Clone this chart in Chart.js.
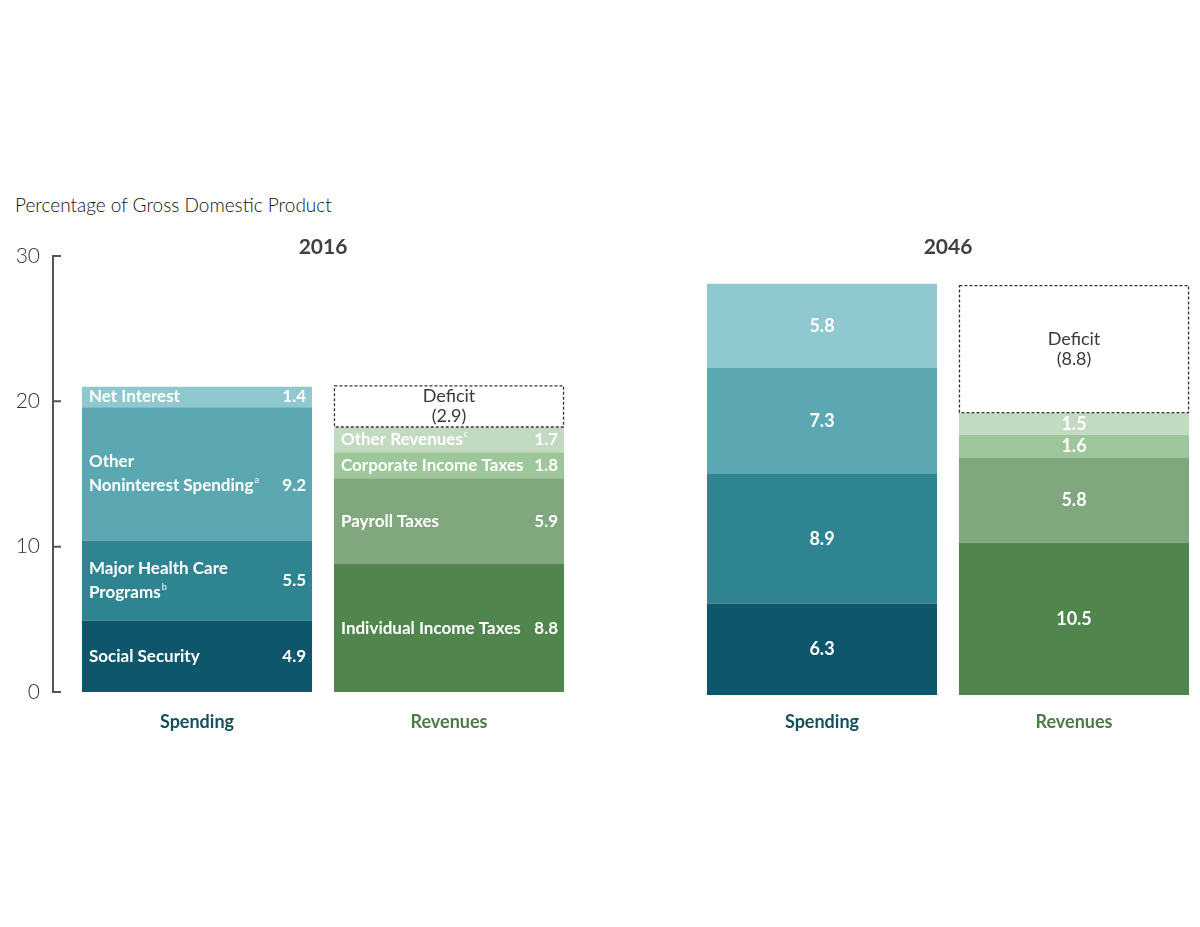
<!DOCTYPE html>
<html>
<head>
<meta charset="utf-8">
<script src="https://cdn.jsdelivr.net/npm/chart.js@4.4.1/dist/chart.umd.min.js"></script>
<style>
  html, body { margin: 0; padding: 0; background: #fff; overflow: hidden; }
  #wrap { position: relative; width: 1200px; height: 927px; }
  #c2016 { position: absolute; left: 0; top: 0; }
  #c2046 { position: absolute; left: 600px; top: 0; }
  #unit {
    position: absolute; left: 15px; top: 193px;
    font: 300 19px Lato, "Open Sans", sans-serif; color: #111;
  }
</style>
</head>
<body>
<div id="wrap">
  <div id="unit">Percentage of Gross Domestic Product</div>
  <canvas id="c2016" width="600" height="927"></canvas>
  <canvas id="c2046" width="600" height="927"></canvas>
</div>
<script>
// Data (percentage of GDP)
const categories = ['Spending', 'Revenues'];
const years = ['2016', '2046'];
const yTicks = [0, 10, 20, 30];

const spendingNames = ['Social Security', 'Major Health Care\nPrograms', 'Other\nNoninterest Spending', 'Net Interest'];
const spendingNotes = ['', 'b', 'a', ''];
const spending2016 = [4.9, 5.5, 9.2, 1.4];
const spending2046 = [6.3, 8.9, 7.3, 5.8];

const revenueNames = ['Individual Income Taxes', 'Payroll Taxes', 'Corporate Income Taxes', 'Other Revenues'];
const revenueNotes = ['', '', '', 'c'];
const revenues2016 = [8.8, 5.9, 1.8, 1.7];
const revenues2046 = [10.5, 5.8, 1.6, 1.5];

const deficits = [2.9, 8.8];

const spendingColors = ['#0d566b', '#2e8591', '#5ba8b3', '#90c8d0'];
const revenueColors = ['#50864e', '#80a77e', '#9ec69b', '#c2dbc0'];

const FONT = 'Lato, "Open Sans", sans-serif';

function buildDatasets(spend, rev, deficit) {
    const sets = [];
    spend.forEach((v, i) => {
        sets.push({
            label: spendingNames[i],
            note: spendingNotes[i],
            data: [v, null],
            backgroundColor: spendingColors[i]
        });
    });
    rev.forEach((v, i) => {
        sets.push({
            label: revenueNames[i],
            note: revenueNotes[i],
            data: [null, v],
            backgroundColor: revenueColors[i]
        });
    });
    sets.push({
        label: 'Deficit',
        isDeficit: true,
        data: [null, deficit],
        backgroundColor: '#ffffff'
    });
    return sets;
}

function textWithNote(ctx, text, note, x, y, align, size) {
    ctx.font = `700 ${size}px ${FONT}`;
    const w = ctx.measureText(text).width;
    let left = x;
    if (align === 'right') left = x - w;
    ctx.textAlign = 'left';
    ctx.fillText(text, left, y);
    if (note) {
        ctx.font = `400 ${Math.round(size * 0.55)}px ${FONT}`;
        ctx.fillText(note, left + w + 1, y - size * 0.35);
    }
}

// draws axis line with inward ticks, panel year and segment labels
const panelPlugin = {
    id: 'panel',
    afterDatasetsDraw(chart, args, opts) {
        const ctx = chart.ctx;
        const yScale = chart.scales.y;
        const area = chart.chartArea;
        ctx.save();

        if (opts.axis) {
            const ax = area.left - 18;
            ctx.strokeStyle = '#555';
            ctx.lineWidth = 2;
            ctx.beginPath();
            ctx.moveTo(ax, yScale.getPixelForValue(0));
            ctx.lineTo(ax, yScale.getPixelForValue(30));
            yTicks.forEach(t => {
                const py = yScale.getPixelForValue(t);
                ctx.moveTo(ax - 1, py);
                ctx.lineTo(ax + 8, py);
            });
            ctx.stroke();
        }

        // year heading
        ctx.fillStyle = '#404040';
        ctx.font = `700 21px ${FONT}`;
        ctx.textAlign = 'center';
        ctx.textBaseline = 'middle';
        ctx.fillText(opts.year, (area.left + area.right) / 2, 247);

        chart.data.datasets.forEach((ds, i) => {
            const meta = chart.getDatasetMeta(i);
            meta.data.forEach((bar, j) => {
                const v = ds.data[j];
                if (v == null) return;
                const p = bar.getProps(['x', 'y', 'base', 'width'], true);
                const top = Math.min(p.y, p.base);
                const bottom = Math.max(p.y, p.base);
                const left = p.x - p.width / 2;
                const right = p.x + p.width / 2;
                const cy = (top + bottom) / 2;

                if (ds.isDeficit) {
                    ctx.strokeStyle = '#333';
                    ctx.lineWidth = 1.3;
                    ctx.setLineDash([3, 2]);
                    ctx.strokeRect(left + 0.5, top + 0.5, p.width - 1, bottom - top - 1);
                    ctx.setLineDash([]);
                    ctx.fillStyle = '#3a3a3a';
                    ctx.font = `400 18px ${FONT}`;
                    ctx.textAlign = 'center';
                    ctx.fillText('Deficit', p.x, cy - 10);
                    ctx.fillText('(' + v.toFixed(1) + ')', p.x, cy + 10);
                    return;
                }

                ctx.fillStyle = '#ffffff';
                const value = v.toFixed(1);
                if (opts.names) {
                    const lines = ds.label.split('\n');
                    const lh = 24;
                    lines.forEach((line, k) => {
                        const ly = cy + (k - (lines.length - 1) / 2) * lh;
                        const note = k === lines.length - 1 ? ds.note : '';
                        textWithNote(ctx, line, note, left + 7, ly, 'left', 17);
                    });
                    let vy = cy;
                    if (lines.length > 1 && bottom - top > 100) {
                        vy = cy + (lines.length - 1) / 2 * lh;
                    }
                    textWithNote(ctx, value, '', right - 6, vy, 'right', 17);
                } else {
                    ctx.font = `700 18px ${FONT}`;
                    ctx.textAlign = 'center';
                    ctx.fillText(value, p.x, cy);
                }
            });
        });
        ctx.restore();
    }
};

function makeChart(id, yearIdx, spend, rev, deficit) {
    const first = yearIdx === 0;
    return new Chart(document.getElementById(id), {
        type: 'bar',
        data: {
            labels: categories,
            datasets: buildDatasets(spend, rev, deficit)
        },
        options: {
            responsive: false,
            animation: false,
            layout: {
                padding: {
                    left: first ? 0 : 96,
                    right: first ? 25 : 0,
                    top: first ? 256 : 259,
                    bottom: first ? 175 : 172
                }
            },
            datasets: {
                bar: { barPercentage: 0.913, categoryPercentage: 1, borderWidth: 0 }
            },
            plugins: {
                legend: { display: false },
                tooltip: { enabled: false },
                panel: { year: years[yearIdx], names: first, axis: first }
            },
            scales: {
                x: {
                    stacked: true,
                    grid: { display: false },
                    border: { display: false },
                    afterFit(scale) { scale.height = 60; },
                    ticks: {
                        padding: first ? 11 : 8,
                        font: { family: FONT, size: 18, weight: '700' },
                        color: ctx => ctx.index === 0 ? '#15505f' : '#4b7b47'
                    }
                },
                y: {
                    display: first,
                    stacked: true,
                    min: 0,
                    max: 30,
                    grid: { display: false, drawTicks: false },
                    border: { display: false },
                    afterFit(scale) { scale.width = first ? 71 : 0; },
                    ticks: {
                        stepSize: 10,
                        padding: 31,
                        font: { family: FONT, size: 21, weight: '300' },
                        color: '#333'
                    }
                }
            }
        },
        plugins: [panelPlugin]
    });
}

makeChart('c2016', 0, spending2016, revenues2016, deficits[0]);
makeChart('c2046', 1, spending2046, revenues2046, deficits[1]);
</script>
</body>
</html>
